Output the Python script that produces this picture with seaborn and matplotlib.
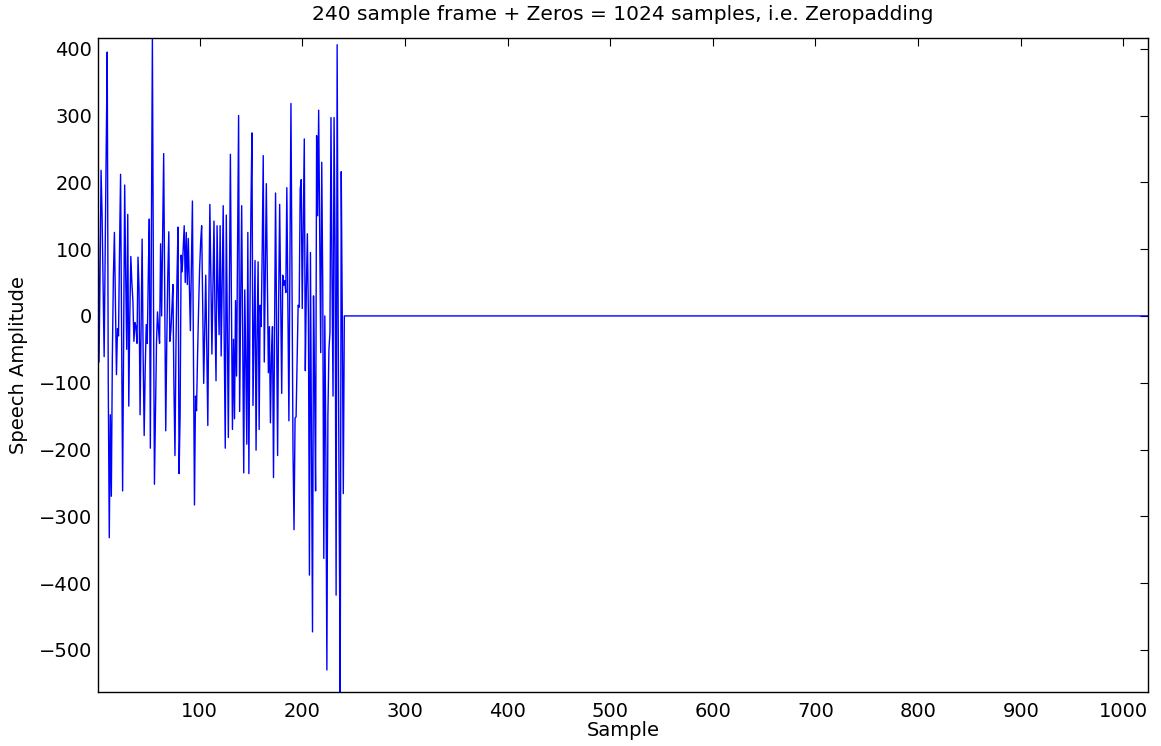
import numpy as np
import pandas as pd
import matplotlib
matplotlib.use("Agg")
import matplotlib.pyplot as plt
import seaborn as sns

# 240-sample speech frame
frame = [
    260, -69, 60, 218, 150, 40, -61, 100, 250, 395,
    -100, -332, -148, -270, -60, 60, 125, 20, -88, -19,
    -30, 100, 212, -20, -262, -40, 196, 60, -50, 152,
    -135, 0, 89, 50, 23, -38, -10, -16, -41, 88,
    40, -148, -20, 115, -60, -179, -80, -13, -41, 60,
    145, -198, 100, 416, 50, -252, -150, -40, 6, -20,
    -41, 108, 0, 120, 243, 30, -172, -40, 60, 126,
    -38, -22, 10, 47, -107, -209, -40, 60, 133, -236,
    -150, 91, 66, 100, 135, 50, 125, 47, 116, 50,
    -22, 80, 172, -50, -283, -120, -142, -60, 10, 70,
    110, 135, 20, -101, -20, 61, -50, -164, 20, 167,
    60, -57, 40, 142, 0, -97, 135, 40, -28, 135,
    -60, 50, 165, -40, -198, 151, -20, -182, 30, 242,
    20, -170, -35, -154, 23, -90, 100, 300, -143, 20,
    165, -40, -235, 39, -70, -192, 125, -236, 0, 160,
    274, -134, -20, 83, -201, -30, 81, -170, 16, -16,
    100, 240, -69, 60, 198, 50, -85, -16, -160, -60,
    -16, -242, -30, 184, -10, -209, 20, 167, 20, -116,
    61, 46, 53, 35, 192, 10, -157, 80, 318, 60,
    -200, -320, -153, -151, -70, 16, 13, 190, 204, 11,
    140, 265, -82, 40, 123, 0, -388, 95, -200, -473,
    30, -100, -262, 270, 150, 308, 120, -55, 230, 40,
    -363, 0, -200, -530, -150, -50, -25, 297, 60, -120,
    297, 100, -418, 406, 0, -300, -563, 216, 0, -266,
]
n_fft = 1024
signal = np.concatenate([np.array(frame, dtype=float), np.zeros(n_fft - len(frame))])
samples = np.arange(1, n_fft + 1)

x_ticks = list(range(100, 1001, 100))
y_ticks = list(range(-500, 401, 100))

df = pd.DataFrame({"Sample": samples, "Amplitude": signal})

sns.set_theme(style="white")
plt.rcParams["font.family"] = ["DejaVu Sans"]
plt.rcParams["axes.unicode_minus"] = True
plt.rcParams["text.color"] = "black"
plt.rcParams["axes.labelcolor"] = "black"

fig = plt.figure(figsize=(11.61, 7.46), dpi=100)
ax = fig.add_axes([0.0844, 0.0724, 0.9044, 0.8766])

sns.lineplot(data=df, x="Sample", y="Amplitude", color="#0000ff",
             linewidth=1.0, ax=ax, estimator=None)

ax.set_xlim(1, n_fft)
ax.set_ylim(signal.min(), signal.max())
ax.set_xticks(x_ticks)
ax.set_yticks(y_ticks)
ax.tick_params(axis="both", direction="in", length=6, width=0.8, top=True, right=True,
               labelsize=14, colors="black")
ax.tick_params(axis="x", pad=7)
ax.tick_params(axis="y", pad=4)
for s in ax.spines.values():
    s.set_color("black")
    s.set_linewidth(1.0)

ax.set_xlabel("Sample", fontsize=14, labelpad=0)
ax.set_ylabel("Speech Amplitude", fontsize=14, labelpad=8)
ax.set_title("240 sample frame + Zeros = 1024 samples, i.e. Zeropadding",
             fontsize=14.5, pad=13)

fig.savefig("out.png", dpi=100, facecolor="white")
